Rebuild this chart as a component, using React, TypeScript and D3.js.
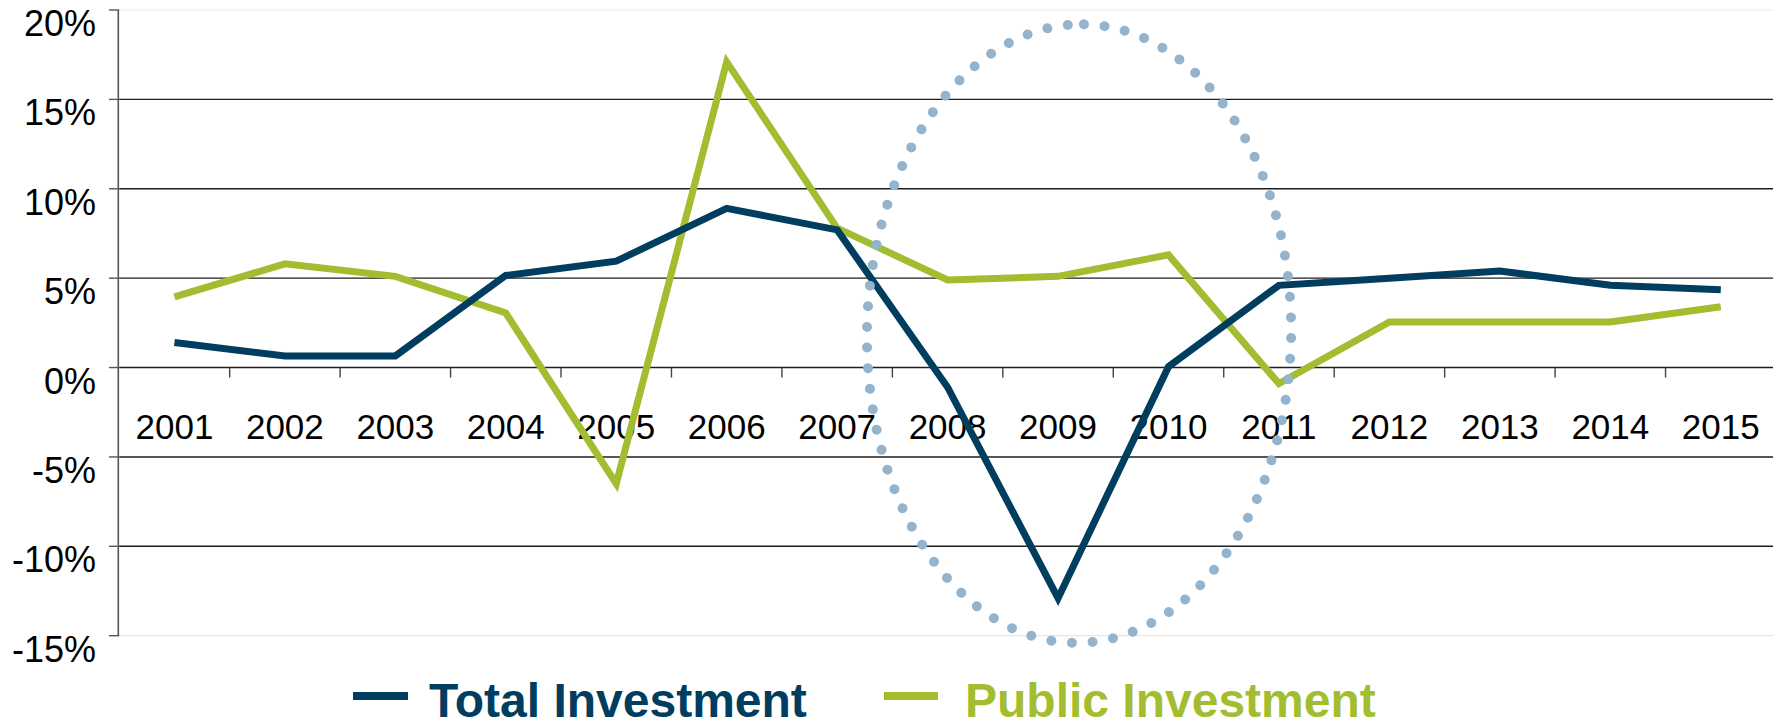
import React from 'react';
import * as d3 from 'd3';

const years = ['2001', '2002', '2003', '2004', '2005', '2006', '2007', '2008', '2009', '2010', '2011', '2012', '2013', '2014', '2015'];
const totalInvestment = [1.4, 0.65, 0.65, 5.15, 5.95, 8.9, 7.7, -1.1, -12.9, 0.05, 4.6, 5.0, 5.4, 4.6, 4.35];
const publicInvestment = [3.95, 5.8, 5.1, 3.05, -6.5, 17.1, 7.8, 4.9, 5.1, 6.3, -0.9, 2.55, 2.55, 2.55, 3.4];
const yTicks = [-15, -10, -5, 0, 5, 10, 15, 20];
const seriesNames = ['Total Investment', 'Public Investment'];
const seriesColors = ['#003d5e', '#a2bd30'];

// highlight ellipse around the 2008-2010 crisis, in data units
const highlight = { year: '2009', dx: 0.19, rxBands: 1.92, top: 19.2, bottom: -15.4 };

const W = 1773;
const H = 720;
const FONT = '"Liberation Sans", Arial, Helvetica, sans-serif';

export default function App() {
  React.useEffect(() => {
    document.body.style.margin = '0';
  }, []);

  const x = d3.scaleBand<string>().domain(years).range([119.2, 1776]).padding(0);
  const y = d3.scaleLinear().domain([-15, 20]).range([635.7, 10]);
  const bw = x.bandwidth();
  const cxOf = (yr: string) => (x(yr) as number) + bw / 2;

  const line = d3
    .line<number>()
    .x((_, i) => cxOf(years[i]))
    .y((d) => y(d));

  const plotLeft = x.range()[0];
  const plotRight = x.range()[1];

  const ecx = cxOf(highlight.year) + highlight.dx * bw;
  const ery = (y(highlight.bottom) - y(highlight.top)) / 2;
  const ecy = (y(highlight.bottom) + y(highlight.top)) / 2;
  const erx = highlight.rxBands * bw;
  const ellipsePath = `M${ecx},${ecy - ery} A${erx},${ery} 0 1 1 ${ecx},${ecy + ery} A${erx},${ery} 0 1 1 ${ecx},${ecy - ery}`;

  return (
    <svg width={W} height={H} style={{ display: 'block' }} fontFamily={FONT}>
      <rect x={0} y={0} width={W} height={H} fill="#fff" />
      {/* plot border (light) */}
      <line x1={plotLeft} x2={plotRight} y1={y(20)} y2={y(20)} stroke="#ececec" strokeWidth={1.2} />
      <line x1={plotLeft} x2={plotRight} y1={y(-15)} y2={y(-15)} stroke="#e6e6e6" strokeWidth={1.2} />
      {/* gridlines */}
      {yTicks.filter((t) => t !== 20 && t !== -15).map((t) => (
        <line key={'g' + t} x1={plotLeft} x2={plotRight} y1={y(t)} y2={y(t)} stroke="#1e1e1e" strokeWidth={1.4} />
      ))}
      {/* y ticks */}
      {yTicks.map((t) => (
        <line key={'t' + t} x1={109} x2={plotLeft} y1={y(t)} y2={y(t)} stroke="#555" strokeWidth={1.4} />
      ))}
      {/* y axis */}
      <line x1={plotLeft - 0.9} x2={plotLeft - 0.9} y1={y(20)} y2={y(-15)} stroke="#555" strokeWidth={1.6} />
      {/* y labels */}
      {yTicks.map((t) => (
        <text key={'l' + t} x={96} y={y(t) + 26} textAnchor="end" fontSize={36} fill="#000">
          {t + '%'}
        </text>
      ))}
      {/* category ticks on zero line */}
      {years.slice(1).map((yr) => (
        <line key={'c' + yr} x1={x(yr) as number} x2={x(yr) as number} y1={y(0)} y2={y(0) + 10} stroke="#444" strokeWidth={1.4} />
      ))}
      {/* category labels */}
      {years.map((yr) => (
        <text key={'x' + yr} x={cxOf(yr)} y={y(0) + 71} textAnchor="middle" fontSize={35} fill="#000">
          {yr}
        </text>
      ))}
      {/* series */}
      <path d={line(publicInvestment) || ''} fill="none" stroke={seriesColors[1]} strokeWidth={7} strokeLinejoin="miter" strokeMiterlimit={3} />
      <path d={line(totalInvestment) || ''} fill="none" stroke={seriesColors[0]} strokeWidth={7} strokeLinejoin="miter" strokeMiterlimit={3} />
      {/* highlight ellipse */}
      <path
        d={ellipsePath}
        fill="none"
        stroke="#94b3cc"
        strokeWidth={10}
        strokeLinecap="round"
        strokeDasharray="0 20.7"
        transform={`rotate(0.9 ${ecx} ${ecy})`}
      />
      {/* legend */}
      <line x1={353} x2={408} y1={696} y2={696} stroke={seriesColors[0]} strokeWidth={8} />
      <text x={429} y={717} fontSize={48} fontWeight="bold" fill={seriesColors[0]}>
        {seriesNames[0]}
      </text>
      <line x1={884} x2={938} y1={696} y2={696} stroke={seriesColors[1]} strokeWidth={8} />
      <text x={965} y={717} fontSize={48} fontWeight="bold" fill={seriesColors[1]}>
        {seriesNames[1]}
      </text>
    </svg>
  );
}
